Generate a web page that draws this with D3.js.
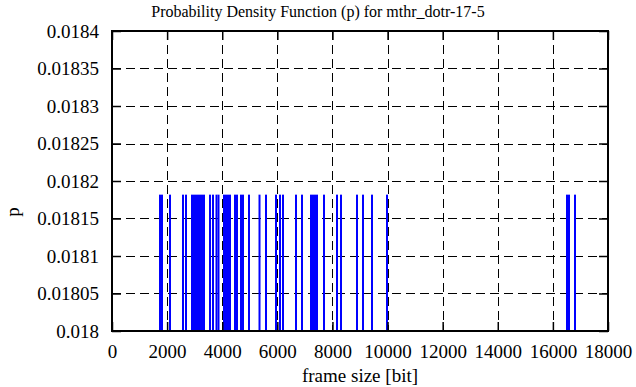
<!DOCTYPE html>
<meta charset="utf-8">
<style>
body { margin: 0; background: #fff; }
text { fill: #000; }
.grid line { stroke: #000; stroke-width: 1; stroke-dasharray: 9,5; shape-rendering: crispEdges; }
.axis path { display: none; }
.axis line { stroke: #000; stroke-width: 1.5; }
</style>
<div class="chart"></div>
<script src="https://d3js.org/d3.v7.min.js"></script>
<script>
// frame sizes seen in the trace [bit]
var frameSizes = [1742, 1815, 2105, 2577, 2686, 2903, 2976, 3048, 3121, 3194,
    3266, 3339, 3556, 3665, 3792, 3865, 4065, 4137, 4210, 4282,
    4464, 4536, 4681, 4754, 4972, 5353, 5589, 5952, 6097, 6206,
    6677, 6895, 7222, 7294, 7367, 7440, 7694, 8165, 8310, 8891,
    9109, 9435, 9980, 16512, 16585, 16802];
// probability of each size
var pValues = [0.0181818, 0.0181818, 0.0181818, 0.0181818, 0.0181818, 0.0181818, 0.0181818, 0.0181818, 0.0181818, 0.0181818,
    0.0181818, 0.0181818, 0.0181818, 0.0181818, 0.0181818, 0.0181818, 0.0181818, 0.0181818, 0.0181818, 0.0181818,
    0.0181818, 0.0181818, 0.0181818, 0.0181818, 0.0181818, 0.0181818, 0.0181818, 0.0181818, 0.0181818, 0.0181818,
    0.0181818, 0.0181818, 0.0181818, 0.0181818, 0.0181818, 0.0181818, 0.0181818, 0.0181818, 0.0181818, 0.0181818,
    0.0181818, 0.0181818, 0.0181818, 0.0181818, 0.0181818, 0.0181818];
var xTicks = [0, 2000, 4000, 6000, 8000, 10000, 12000, 14000, 16000, 18000];
var yTicks = [0.018, 0.01805, 0.0181, 0.01815, 0.0182, 0.01825, 0.0183, 0.01835, 0.0184];

var font = "'Liberation Serif', 'Times New Roman', Times, serif";
var margin = { top: 31, right: 28, bottom: 56, left: 112 };
var width = 636 - margin.left - margin.right;
var height = 387 - margin.top - margin.bottom;

var svg = d3.select(".chart").append("svg")
    .attr("width", 636)
    .attr("height", 387);

var g = svg.append("g")
    .attr("transform", "translate(" + margin.left + "," + margin.top + ")");

var x = d3.scaleLinear().domain([0, 18000]).range([0, width]);
var y = d3.scaleLinear().domain([0.018, 0.0184]).range([height, 0]);

// dashed grid
g.append("g").attr("class", "grid")
    .selectAll("line")
    .data(xTicks.slice(1, -1))
    .enter().append("line")
    .attr("x1", function (d) { return Math.round(x(d)) + 0.5; })
    .attr("x2", function (d) { return Math.round(x(d)) + 0.5; })
    .attr("y1", 0).attr("y2", height);

g.append("g").attr("class", "grid")
    .selectAll("line")
    .data(yTicks.slice(1, -1))
    .enter().append("line")
    .attr("y1", function (d) { return Math.round(y(d)) + 0.5; })
    .attr("y2", function (d) { return Math.round(y(d)) + 0.5; })
    .attr("x1", 0).attr("x2", width);

// impulses
g.append("clipPath").attr("id", "clip")
    .append("rect").attr("width", width).attr("height", height);

g.append("g").attr("clip-path", "url(#clip)")
    .selectAll("line")
    .data(frameSizes)
    .enter().append("line")
    .attr("x1", function (d) { return x(d); })
    .attr("x2", function (d) { return x(d); })
    .attr("y1", y(0.018) + 2)
    .attr("y2", function (d, i) { return y(pValues[i]); })
    .attr("stroke", "#0000ff")
    .attr("stroke-width", 2);

// axes with inward ticks on all four sides
var tickLen = 9;
g.append("g").attr("class", "axis")
    .attr("transform", "translate(0," + height + ")")
    .call(d3.axisBottom(x).tickValues(xTicks).tickSize(-tickLen).tickPadding(tickLen + 5).tickFormat(d3.format("d")))
    .selectAll("text").style("font-family", font).style("font-size", "19px");

g.append("g").attr("class", "axis")
    .call(d3.axisTop(x).tickValues(xTicks).tickSize(-tickLen).tickFormat(""));

g.append("g").attr("class", "axis")
    .call(d3.axisLeft(y).tickValues(yTicks).tickSize(-tickLen).tickPadding(tickLen + 4).tickFormat(function (d) { return String(+d.toFixed(5)); }))
    .selectAll("text").style("font-family", font).style("font-size", "19px");

g.append("g").attr("class", "axis")
    .attr("transform", "translate(" + width + ",0)")
    .call(d3.axisRight(y).tickValues(yTicks).tickSize(-tickLen).tickFormat(""));

// frame
g.append("rect")
    .attr("width", width).attr("height", height)
    .attr("fill", "none").attr("stroke", "#000").attr("stroke-width", 2);

// labels
svg.append("text")
    .attr("x", 318).attr("y", 17)
    .attr("text-anchor", "middle")
    .style("font-family", font)
    .style("font-size", "16px")
    .text("Probability Density Function (p) for mthr_dotr-17-5");

svg.append("text")
    .attr("x", margin.left + width / 2).attr("y", 382)
    .attr("text-anchor", "middle")
    .style("font-family", font)
    .style("font-size", "19px")
    .text("frame size [bit]");

svg.append("text")
    .attr("transform", "translate(19,212) rotate(-90)")
    .attr("text-anchor", "middle")
    .style("font-family", font)
    .style("font-size", "19px")
    .text("p");
</script>
